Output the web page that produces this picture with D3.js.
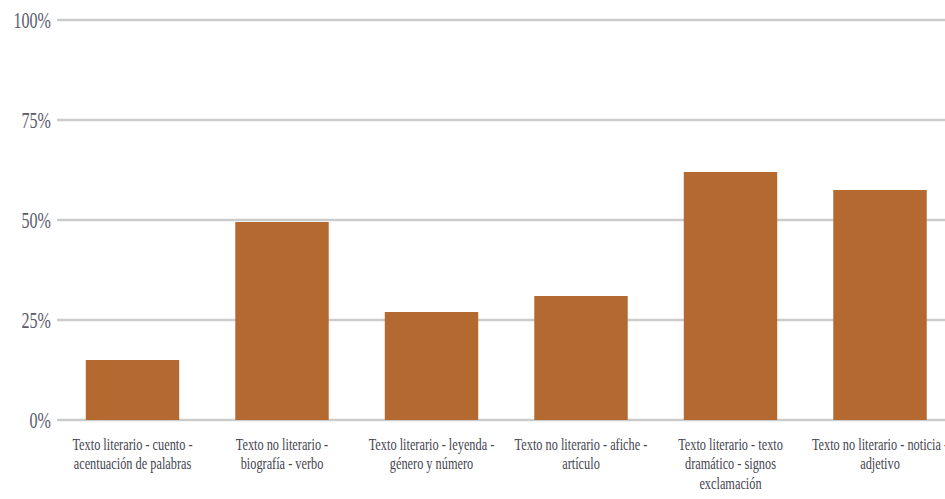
<!DOCTYPE html>
<html>
<head>
<meta charset="utf-8">
<script src="https://cdn.jsdelivr.net/npm/d3@7"></script>
<style>
  html, body { margin: 0; padding: 0; background: #fff; overflow: hidden; }
  svg { display: block; }
  svg text { font-family: "Liberation Serif", "Times New Roman", serif; }
</style>
</head>
<body>
<svg id="chart" width="945" height="499"></svg>
<script>
const categories = [
  "Texto literario - cuento - acentuación de palabras",
  "Texto no literario - biografía - verbo",
  "Texto literario - leyenda - género y número",
  "Texto no literario - afiche - artículo",
  "Texto literario - texto dramático - signos exclamación",
  "Texto no literario - noticia - adjetivo"
];
const categoryLines = [
  ["Texto literario - cuento -", "acentuación de palabras"],
  ["Texto no literario -", "biografía - verbo"],
  ["Texto literario - leyenda -", "género y número"],
  ["Texto no literario - afiche -", "artículo"],
  ["Texto literario - texto", "dramático - signos", "exclamación"],
  ["Texto no literario - noticia -", "adjetivo"]
];
const values = [0.15, 0.495, 0.27, 0.31, 0.62, 0.575];
const yTicks = [0, 0.25, 0.5, 0.75, 1];
const yTickLabels = ["0%", "25%", "50%", "75%", "100%"];

const svg = d3.select("#chart");
const x = d3.scaleBand().domain(categories).range([57.75, 954.75]).paddingInner(0.375).paddingOuter(0.1875);
const y = d3.scaleLinear().domain([0, 1]).range([420, 20]);

// gridlines
svg.append("g").selectAll("line").data(yTicks).join("line")
  .attr("x1", 57).attr("x2", 945)
  .attr("y1", d => y(d)).attr("y2", d => y(d))
  .attr("stroke", "#cccccc").attr("stroke-width", 2.5);

// y labels (condensed serif)
svg.append("g").selectAll("text").data(yTicks).join("text")
  .attr("transform", d => `translate(51,${y(d)}) scale(0.67,1)`)
  .attr("dy", "0.34em")
  .attr("text-anchor", "end")
  .attr("font-size", 24).attr("fill", "#5a5b6a")
  .text((d, i) => yTickLabels[i]);

// bars
svg.append("g").selectAll("rect").data(values).join("rect")
  .attr("x", (d, i) => x(categories[i]))
  .attr("width", x.bandwidth())
  .attr("y", d => y(d))
  .attr("height", d => y(0) - y(d))
  .attr("fill", "#b3692f");

// category labels (condensed serif)
const lab = svg.append("g").selectAll("text").data(categoryLines).join("text")
  .attr("text-anchor", "middle")
  .attr("font-size", 16).attr("fill", "#45454f")
  .attr("transform", (d, i) => `translate(${x(categories[i]) + x.bandwidth() / 2},450) scale(0.77,1)`);
lab.selectAll("tspan").data(d => d).join("tspan")
  .attr("x", 0).attr("dy", (d, i) => i === 0 ? 0 : 19.5)
  .text(d => d);
</script>
</body>
</html>
